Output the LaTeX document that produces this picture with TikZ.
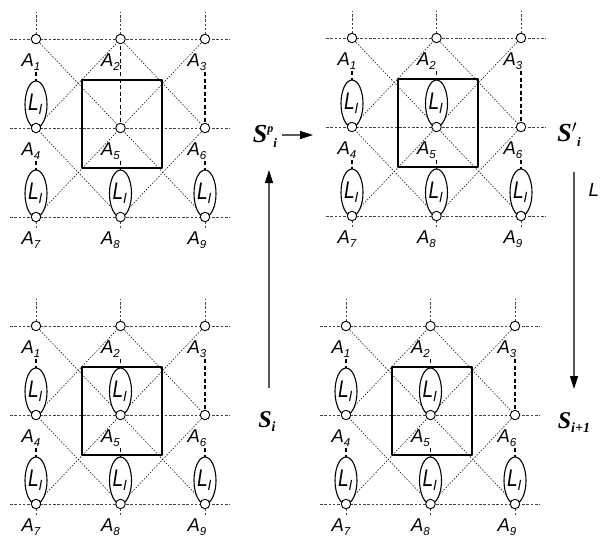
\documentclass[tikz,border=0pt]{standalone}
\usepackage{fontspec}
\setmainfont{Liberation Sans}
\newfontfamily\timesfont{Liberation Serif}
\usepackage{tikz}
\usetikzlibrary{shapes.geometric}
\usetikzlibrary{arrows.meta}
\definecolor{wwwwww}{rgb}{0.35,0.35,0.35}
\definecolor{uuuuuu}{rgb}{0.27,0.27,0.27}
\newcommand{\Ll}{\scalebox{0.8}[1]{\fontsize{24}{24}\selectfont\itshape L}\raisebox{-4pt}{\fontsize{14}{14}\selectfont\itshape l}}
\newcommand{\Alab}[1]{\fontsize{18.5}{19}\selectfont\itshape A\raisebox{-4pt}{\fontsize{11.5}{11.5}\selectfont #1}}
\tikzset{
  griddot/.style={dash pattern=on 2.5pt off 1.8pt,line width=0.75pt,color=uuuuuu},
  diagdot/.style={dash pattern=on 1.4pt off 1.6pt,line width=0.55pt},
  linkdash/.style={dash pattern=on 4pt off 2.5pt,line width=1.7pt},
  lring/.style={ellipse,draw,fill=white,line width=1.1pt,minimum width=22pt,minimum height=47pt,inner sep=0pt},
  site/.style={circle,draw,fill=white,line width=0.9pt,minimum size=9.5pt,inner sep=0pt},
  alabel/.style={inner sep=0pt},
  slabel/.style={inner sep=0pt,font=\timesfont\bfseries\itshape},
  flowarrow/.style={draw=wwwwww,line width=1.1pt,-{Triangle[length=13pt,width=8pt,color=black]}}
}
% one 3x3 cell: #1 prefix, #2,#3 position of A1, #4 extra drawing
\newcommand{\latpanel}[4]{%
\begin{scope}[shift={(#2,#3)}]
  \foreach \k/\c/\r in {1/0/0,2/84.5/0,3/169/0,4/0/89,5/84.5/89,6/169/89,7/0/178,8/84.5/178,9/169/178}
    \coordinate (#1a\k) at (\c,\r);
  % grid lines
  \foreach \r/\a/\b in {0/1/3,89/4/6,178/7/9}
    \draw[griddot] (-26,\r) -- (#1a\a) -- (#1a\b) -- (194,\r);
  \foreach \k in {1,2,3}
    \draw[griddot] (#1a\k) -- ++(0,-27);
  \foreach \k in {7,8,9}
    \draw[griddot] (#1a\k) -- ++(0,11);
  \foreach \k in {1,...,6}
    \draw[linkdash] (#1a\k) ++(0,33) -- ++(0,56);
  % diagonals
  \draw[diagdot] (#1a1) -- (#1a9);
  \draw[diagdot] (#1a3) -- (#1a7);
  \draw[diagdot] (#1a2) -- (#1a6) -- (#1a8) -- (#1a4) -- cycle;
  \draw[line width=1.3pt] (46,41) rectangle (126,129);
  % loops
  \node[lring,label={[inner sep=0pt,xshift=-1pt]center:\Ll}] (#1e14) at (0,65.5) {};
  \node[lring,label={[inner sep=0pt,xshift=-1pt]center:\Ll}] (#1e47) at (0,154.5) {};
  \node[lring,label={[inner sep=0pt,xshift=-1pt]center:\Ll}] (#1e58) at (84.5,154.5) {};
  \node[lring,label={[inner sep=0pt,xshift=-1pt]center:\Ll}] (#1e69) at (169,154.5) {};
  #4
  \foreach \k/\c/\r in {1/-5/0,2/74.5/0,3/161/0,4/-5/89,5/74.5/89,6/161/89,7/-5/178,8/74.5/178,9/161/178}
    \node[alabel] (#1l\k) at (\c,\r+23) {\Alab{\k}};
  \foreach \k in {1,...,9}
    \node[site] (#1n\k) at (#1a\k) {};
\end{scope}}

\begin{document}
\begin{tikzpicture}[line cap=butt,line join=round,x=1pt,y=-1pt]
\useasboundingbox (0,0) rectangle (602,542);
\latpanel{tl}{36}{39}{\draw[linkdash] (tla2) -- ++(0,33);}
\latpanel{tr}{352}{38}{\node[lring,label={[inner sep=0pt,xshift=-1pt]center:\Ll}] (tre25) at (84.5,65.5) {};}
\latpanel{bl}{36}{326}{\node[lring,label={[inner sep=0pt,xshift=-1pt]center:\Ll}] (ble25) at (84.5,65.5) {};}
\latpanel{br}{346}{326}{\node[lring,label={[inner sep=0pt,xshift=-1pt]center:\Ll}] (bre25) at (84.5,65.5) {};}
% state labels
\node[slabel] (spi) at (265,136) {\fontsize{26}{26}\selectfont S\raisebox{10pt}{\fontsize{12}{12}\selectfont p}\raisebox{-5pt}{\fontsize{13}{13}\selectfont i}};
\node[slabel] (sqi) at (569,135) {\fontsize{26}{26}\selectfont S$'$\raisebox{-5pt}{\fontsize{13}{13}\selectfont i}};
\node[slabel] (si) at (267,422) {\fontsize{24}{24}\selectfont S\raisebox{-4pt}{\fontsize{14}{14}\selectfont i}};
\node[slabel] (sii) at (574,423) {\fontsize{24}{24}\selectfont S\raisebox{-4pt}{\fontsize{14}{14}\selectfont i+1}};
\node[inner sep=0pt] (lop) at (594,190) {\fontsize{19}{19}\selectfont\itshape L};
\coordinate (pa) at (282,135);
\coordinate (pb) at (313,135);
\coordinate (ua) at (269,388);
\coordinate (ub) at (269,170);
\coordinate (da) at (574,172);
\coordinate (db) at (574,389);
\draw[flowarrow] (pa) -- (pb);
\draw[flowarrow] (ua) -- (ub);
\draw[flowarrow] (da) -- (db);
\end{tikzpicture}
\end{document}
